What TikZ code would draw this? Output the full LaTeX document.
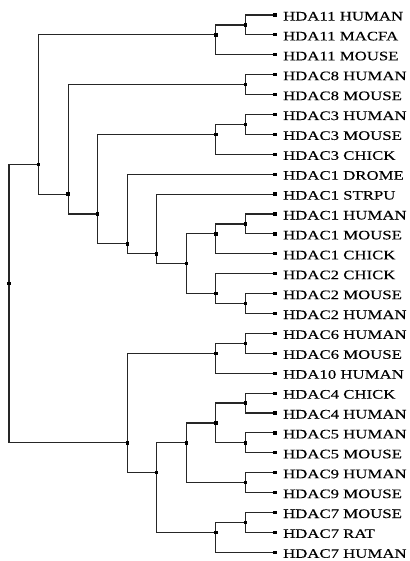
\documentclass[tikz,border=0pt]{standalone}
\usepackage{fontspec}
\setmainfont{Liberation Serif}[FakeStretch=1.29, FakeBold=0.25]
\usetikzlibrary{backgrounds}

\tikzset{
  branch/.style={draw=black!85, line width=1.15pt},
  joint/.style={rectangle, fill=black, inner sep=0pt, minimum size=3.4pt},
  tip/.style={rectangle, fill=black, inner sep=0pt, minimum width=4.2pt, minimum height=3.2pt},
  leaflabel/.style={anchor=base west, inner sep=0pt, font=\fontsize{13}{13}\selectfont}
}

\begin{document}
\begin{tikzpicture}[x=1pt, y=-1pt]
\useasboundingbox (0,0) rectangle (409,561);

% tree grid: x = depth level, y = leaf index
\begin{scope}[shift={(9pt,-15pt)}, x=29.55pt, y=-19.9pt]

% leaves with their labels
\foreach \i/\lab in {
  0/HDA11 HUMAN, 1/HDA11 MACFA, 2/HDA11 MOUSE,
  3/HDAC8 HUMAN, 4/HDAC8 MOUSE,
  5/HDAC3 HUMAN, 6/HDAC3 MOUSE, 7/HDAC3 CHICK,
  8/HDAC1 DROME, 9/HDAC1 STRPU,
  10/HDAC1 HUMAN, 11/HDAC1 MOUSE, 12/HDAC1 CHICK,
  13/HDAC2 CHICK, 14/HDAC2 MOUSE, 15/HDAC2 HUMAN,
  16/HDAC6 HUMAN, 17/HDAC6 MOUSE, 18/HDA10 HUMAN,
  19/HDAC4 CHICK, 20/HDAC4 HUMAN,
  21/HDAC5 HUMAN, 22/HDAC5 MOUSE,
  23/HDAC9 HUMAN, 24/HDAC9 MOUSE,
  25/HDAC7 MOUSE, 26/HDAC7 RAT, 27/HDAC7 HUMAN}{
  \node[tip] (L\i) at (9,\i) {};
  \node[leaflabel] (T\i) at ([xshift=8pt, yshift=-5.5pt]L\i.center) {\lab};
}

% internal nodes (depth, mean leaf index)
\node[joint] (a11in) at (8,0.5)  {};
\node[joint] (a11)   at (7,1)    {};
\node[joint] (c8)    at (8,3.5)  {};
\node[joint] (c3in)  at (8,5.5)  {};
\node[joint] (c3)    at (7,6)    {};
\node[joint] (c1in)  at (8,10.5) {};
\node[joint] (c1)    at (7,11)   {};
\node[joint] (c2in)  at (8,14.5) {};
\node[joint] (c2)    at (7,14)   {};
\node[joint] (n6)    at (6,12.5) {};
\node[joint] (n5)    at (5,12)   {};
\node[joint] (n4)    at (4,11.5) {};
\node[joint] (n3)    at (3,10)   {};
\node[joint] (n2)    at (2,9)    {};
\node[joint] (n1)    at (1,7.5)  {};
\node[joint] (c6in)  at (8,16.5) {};
\node[joint] (c6)    at (7,17)   {};
\node[joint] (c4)    at (8,19.5) {};
\node[joint] (c5)    at (8,21.5) {};
\node[joint] (m4)    at (7,20.5) {};
\node[joint] (c9)    at (8,23.5) {};
\node[joint] (m3)    at (6,21.5) {};
\node[joint] (c7in)  at (8,25.5) {};
\node[joint] (c7)    at (7,26)   {};
\node[joint] (m2)    at (5,23)   {};
\node[joint] (m1)    at (4,21.5) {};
\node[joint] (root)  at (0,13.5) {};

\begin{pgfonlayer}{background}
\foreach \p/\c in {
  a11in/L0, a11in/L1, a11/a11in, a11/L2,
  c8/L3, c8/L4,
  c3in/L5, c3in/L6, c3/c3in, c3/L7,
  c1in/L10, c1in/L11, c1/c1in, c1/L12,
  c2in/L14, c2in/L15, c2/L13, c2/c2in,
  n6/c1, n6/c2, n5/L9, n5/n6, n4/L8, n4/n5,
  n3/c3, n3/n4, n2/c8, n2/n3, n1/a11, n1/n2,
  c6in/L16, c6in/L17, c6/c6in, c6/L18,
  c4/L19, c4/L20, c5/L21, c5/L22, m4/c4, m4/c5,
  c9/L23, c9/L24, m3/m4, m3/c9,
  c7in/L25, c7in/L26, c7/c7in, c7/L27,
  m2/m3, m2/c7, m1/c6, m1/m2,
  root/n1, root/m1}{
  \draw[branch] (\p.center) |- (\c.center);
}
\end{pgfonlayer}
\end{scope}
\end{tikzpicture}
\end{document}
